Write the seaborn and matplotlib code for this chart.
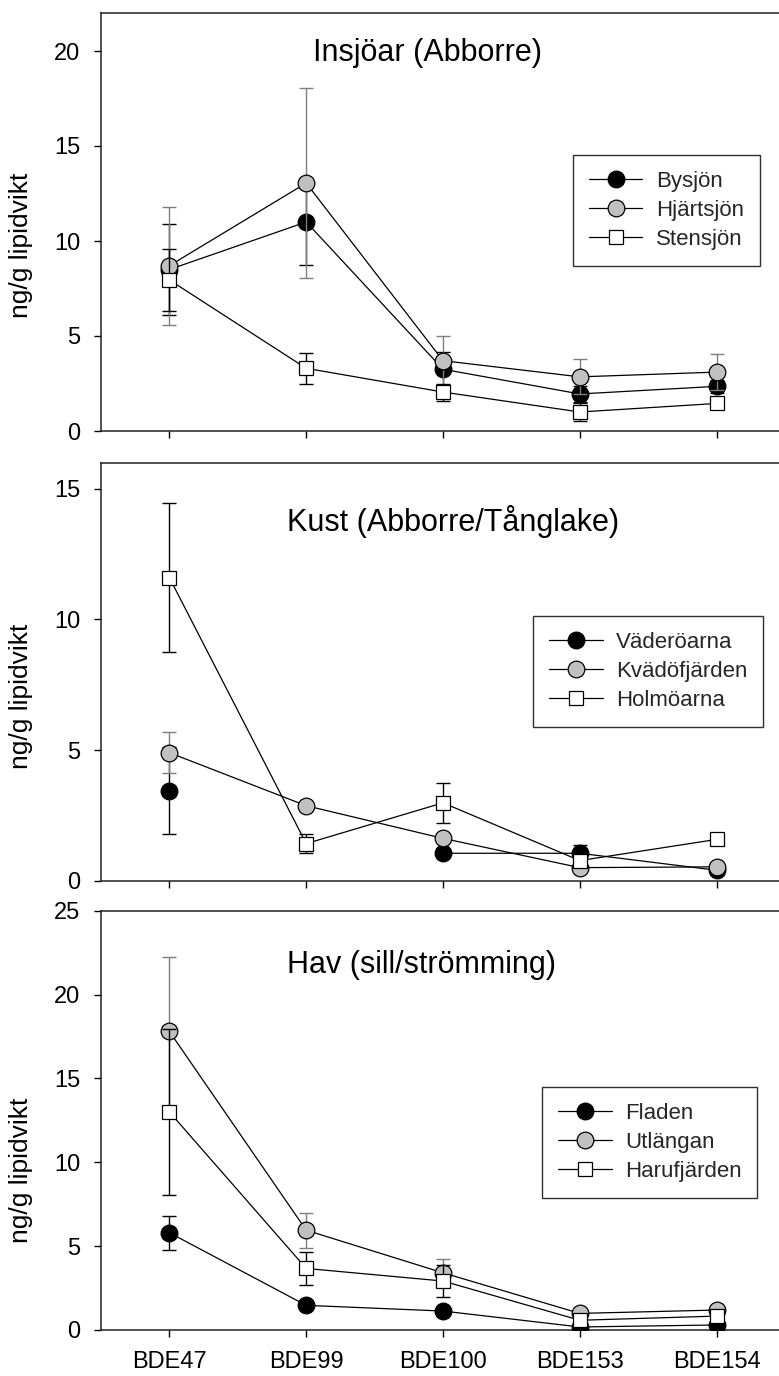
import numpy as np
import pandas as pd
import matplotlib
matplotlib.use("Agg")
import matplotlib.pyplot as plt
from matplotlib.lines import Line2D
import seaborn as sns

# ---------------- data ----------------
categories = ["BDE47", "BDE99", "BDE100", "BDE153", "BDE154"]

# Panel 1: Insjöar (Abborre)
p1_title = "Insjöar (Abborre)"
p1_names = ["Bysjön", "Hjärtsjön", "Stensjön"]
bysjon = [8.5, 11.0, 3.25, 1.95, 2.35]
bysjon_err = [2.4, 2.25, 0.9, 0.4, 0.35]
hjartsjon = [8.7, 13.05, 3.7, 2.85, 3.1]
hjartsjon_err = [3.1, 5.0, 1.28, 0.92, 0.95]
stensjon = [7.95, 3.3, 2.05, 1.0, 1.45]
stensjon_err = [1.65, 0.83, 0.45, 0.45, 0.3]

# Panel 2: Kust (Abborre/Tånglake)
p2_title = "Kust (Abborre/Tånglake)"
p2_names = ["Väderöarna", "Kvädöfjärden", "Holmöarna"]
vaderoarna = [3.45, np.nan, 1.05, 1.05, 0.4]
vaderoarna_err = [1.66, 0.0, 0.0, 0.3, 0.0]
kvadofjarden = [4.9, 2.87, 1.62, 0.5, 0.53]
kvadofjarden_err = [0.78, 0.0, 0.0, 0.0, 0.0]
holmoarna = [11.6, 1.42, 2.98, 0.77, 1.58]
holmoarna_err = [2.84, 0.35, 0.77, 0.0, 0.0]

# Panel 3: Hav (sill/strömming)
p3_title = "Hav (sill/strömming)"
p3_names = ["Fladen", "Utlängan", "Harufjärden"]
fladen = [5.8, 1.47, 1.13, 0.18, 0.3]
fladen_err = [1.02, 0.0, 0.0, 0.0, 0.0]
utlangan = [17.8, 5.95, 3.41, 0.99, 1.19]
utlangan_err = [4.45, 1.04, 0.85, 0.0, 0.0]
harufjarden = [13.0, 3.67, 2.92, 0.58, 0.83]
harufjarden_err = [4.95, 0.98, 0.95, 0.15, 0.15]

ylabel = "ng/g lipidvikt"
p1_yticks = [0, 5, 10, 15, 20]
p2_yticks = [0, 5, 10, 15]
p3_yticks = [0, 5, 10, 15, 20, 25]

# ---------------- style ----------------
sns.set_theme(style="ticks")
plt.rcParams["font.family"] = ["Liberation Sans", "DejaVu Sans"]
plt.rcParams["axes.linewidth"] = 1.1
plt.rcParams["axes.edgecolor"] = "#202020"

styles = [
    dict(marker="o", mfc="black", ms=12, ecol="black"),
    dict(marker="o", mfc="#c0c0c0", ms=12, ecol="#7f7f7f"),
    dict(marker="s", mfc="white", ms=10.5, ecol="black"),
]

fig = plt.figure(figsize=(7.79, 13.76), dpi=100)
left = 101 / 779
width = (785 - 101) / 779
axes_specs = [
    (1 - 431 / 1376, 418 / 1376),
    (1 - 880.7 / 1376, 418 / 1376),
    (1 - 1330 / 1376, 419.3 / 1376),
]

panels = [
    (p1_title, p1_names, [bysjon, hjartsjon, stensjon],
     [bysjon_err, hjartsjon_err, stensjon_err], p1_yticks, 22,
     (0.310, 0.885), (0.690, 0.660), 0.445),
    (p2_title, p2_names, [vaderoarna, kvadofjarden, holmoarna],
     [vaderoarna_err, kvadofjarden_err, holmoarna_err], p2_yticks, 16,
     (0.272, 0.837), (0.632, 0.633), 0.44),
    (p3_title, p3_names, [fladen, utlangan, harufjarden],
     [fladen_err, utlangan_err, harufjarden_err], p3_yticks, 25,
     (0.272, 0.851), (0.645, 0.580), 0.38),
]

xpos = np.arange(len(categories))

for i, (title, names, series, errs, yticks, ytop, tpos, lpos, ylpos) in enumerate(panels):
    bottom, height = axes_specs[i]
    ax = fig.add_axes([left, bottom, width, height])
    handles = []
    for k, (name, vals, err) in enumerate(zip(names, series, errs)):
        st = styles[k]
        vals = np.asarray(vals, dtype=float)
        err = np.asarray(err, dtype=float)
        z = 3 + 2 * k
        ok = ~np.isnan(vals)
        ax.errorbar(xpos[ok], vals[ok], yerr=err[ok], fmt="none",
                    ecolor=st["ecol"], elinewidth=1.0, capsize=5.3,
                    capthick=1.0, zorder=z)
        # segments split at missing values
        seg = np.cumsum(np.isnan(vals))
        df = pd.DataFrame({"x": xpos, "y": vals, "seg": seg}).dropna()
        sns.lineplot(data=df, x="x", y="y", units="seg", estimator=None,
                     ax=ax, color="black", linewidth=0.9, marker=st["marker"],
                     markersize=st["ms"], markerfacecolor=st["mfc"],
                     markeredgecolor="black", markeredgewidth=0.9,
                     zorder=z + 1, legend=False)
        handles.append(Line2D([], [], color="black", linewidth=0.9,
                              marker=st["marker"], markersize=st["ms"],
                              markerfacecolor=st["mfc"],
                              markeredgecolor="black",
                              markeredgewidth=0.9, label=name))
    ax.set_xlim(-0.5, 4.5)
    ax.set_ylim(0, ytop)
    ax.set_yticks(yticks)
    ax.set_xticks(xpos)
    if i == 2:
        ax.set_xticklabels(categories)
    else:
        ax.set_xticklabels([])
    ax.set_xlabel("")
    ax.set_ylabel(ylabel, fontsize=19, color="black")
    ax.yaxis.set_label_coords(-0.099, ylpos)
    ax.tick_params(axis="both", direction="out", length=5, width=1.0,
                   labelsize=17, colors="black")
    ax.tick_params(axis="y", pad=10)
    ax.tick_params(axis="x", pad=10)
    for s in ax.spines.values():
        s.set_visible(True)
        s.set_color("#202020")
    ax.text(tpos[0], tpos[1], title, transform=ax.transAxes, fontsize=22,
            ha="left", va="baseline", color="black")
    leg = ax.legend(handles=handles, loc="upper left", bbox_to_anchor=lpos,
                    borderaxespad=0, fontsize=16, frameon=True, fancybox=False,
                    framealpha=1, edgecolor="#303030", handlelength=2.4,
                    handletextpad=0.6, labelspacing=0.36, borderpad=0.72)
    leg.get_frame().set_linewidth(1.0)

fig.savefig("out.png", dpi=100)
